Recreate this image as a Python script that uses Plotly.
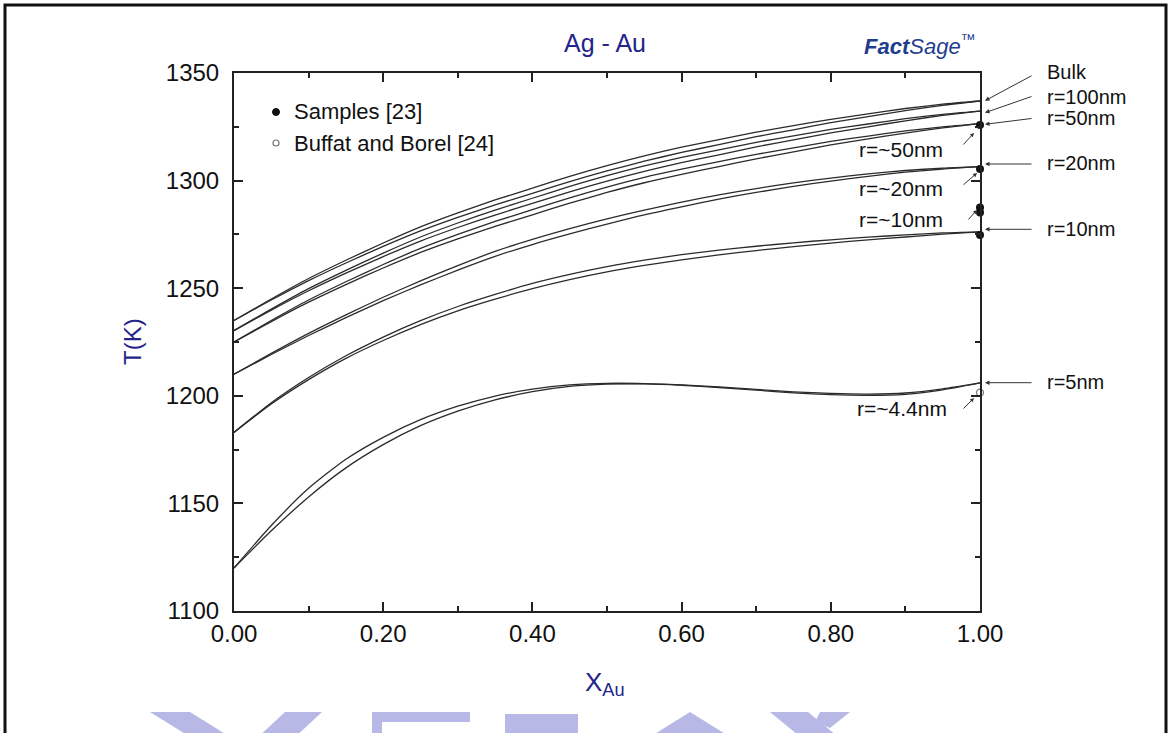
import plotly.graph_objects as go

# ---------------- data ----------------
x_au = [0.00, 0.05, 0.10, 0.15, 0.20, 0.25, 0.30, 0.35, 0.40, 0.45, 0.50,
        0.55, 0.60, 0.65, 0.70, 0.75, 0.80, 0.85, 0.90, 0.95, 1.00]

bulk_liq = [1235, 1245, 1254.5, 1263, 1271, 1278.5, 1285, 1291, 1296.5, 1302, 1307,
            1311.5, 1315.5, 1319, 1322.5, 1325.5, 1328.5, 1331, 1333.5, 1335.5, 1337]
bulk_sol = [1235, 1244.5, 1253.5, 1261.7, 1269.4, 1276.6, 1282.9, 1288.7, 1294.1, 1299.5, 1304.5,
            1309, 1313.1, 1316.7, 1320.4, 1323.6, 1326.9, 1329.7, 1332.5, 1335, 1337]

r100_liq = [1230.3, 1240.3, 1249.8, 1258.3, 1266.3, 1273.8, 1280.3, 1286.3, 1291.8, 1297.3, 1302.3,
            1306.8, 1310.8, 1314.3, 1317.8, 1320.8, 1323.8, 1326.3, 1328.8, 1330.8, 1332.3]
r100_sol = [1230.3, 1239.8, 1248.8, 1257.0, 1264.7, 1271.9, 1278.2, 1284.0, 1289.4, 1294.8, 1299.8,
            1304.3, 1308.4, 1312.0, 1315.7, 1318.9, 1322.2, 1325.0, 1327.8, 1330.3, 1332.3]

r50_liq = [1225, 1235, 1244.5, 1253, 1261, 1268.5, 1275, 1281, 1286.5, 1292, 1297,
           1301.5, 1305.3, 1308.8, 1312.2, 1315.2, 1318.2, 1320.7, 1323.1, 1325, 1326.5]
r50_sol = [1225, 1234.5, 1243.5, 1251.7, 1259.4, 1266.6, 1272.9, 1278.7, 1284.1, 1289.5, 1294.5,
           1299, 1302.9, 1306.5, 1310.1, 1313.3, 1316.6, 1319.4, 1322.1, 1324.5, 1326.5]

r20_liq = [1210, 1219.7, 1229, 1237.6, 1245.8, 1253.4, 1260.5, 1267.1, 1272.7, 1277.7, 1282.2,
           1286.3, 1290, 1293.4, 1296.3, 1298.9, 1301.2, 1303.1, 1304.7, 1305.8, 1306.5]
r20_sol = [1210, 1219.2, 1228, 1236.3, 1244.2, 1251.5, 1258.4, 1264.8, 1270.3, 1275.2, 1279.8,
           1284.1, 1287.8, 1291.4, 1294.5, 1297.3, 1299.8, 1302, 1303.9, 1305.4, 1306.5]

r10_liq = [1183, 1196.8, 1208.5, 1218.6, 1227.3, 1234.9, 1241.5, 1247.1, 1252.2, 1256.4, 1260,
           1263, 1265.6, 1267.7, 1269.5, 1271.1, 1272.5, 1273.7, 1274.8, 1275.7, 1276.2]
r10_sol = [1183, 1196.2, 1207.5, 1217.4, 1225.7, 1233.1, 1239.5, 1244.9, 1249.8, 1254, 1257.6,
           1260.6, 1263.2, 1265.5, 1267.5, 1269.3, 1270.9, 1272.5, 1273.8, 1275.1, 1276.2]

r5_liq = [1120, 1139.75, 1157, 1170.5, 1180.7, 1188.9, 1195.15, 1199.9, 1203.1, 1205.05, 1205.8,
          1205.7, 1205.1, 1204.15, 1202.95, 1201.85, 1201.1, 1200.8, 1201.3, 1203.25, 1206]
r5_sol = [1120, 1137.25, 1153, 1166.5, 1177.3, 1186.1, 1192.85, 1198.1, 1201.9, 1204.35, 1205.4,
          1205.5, 1204.9, 1203.85, 1202.65, 1201.35, 1200.5, 1200.2, 1200.7, 1202.75, 1206]

series_names = ["Bulk", "r=100nm", "r=50nm", "r=20nm", "r=10nm", "r=5nm"]
series_liq = [bulk_liq, r100_liq, r50_liq, r20_liq, r10_liq, r5_liq]
series_sol = [bulk_sol, r100_sol, r50_sol, r20_sol, r10_sol, r5_sol]

samples_x = [1.0, 1.0, 1.0, 1.0, 1.0]
samples_T = [1325.8, 1305.4, 1287.5, 1285.2, 1274.7]
buffat_x = [1.0]
buffat_T = [1201.5]

inner_labels = ["r=~50nm", "r=~20nm", "r=~10nm", "r=~4.4nm"]

x_ticks = [0.0, 0.2, 0.4, 0.6, 0.8, 1.0]
x_ticklabels = ["0.00", "0.20", "0.40", "0.60", "0.80", "1.00"]
y_ticks = [1100, 1150, 1200, 1250, 1300, 1350]

# ---------------- figure ----------------
W, H = 1172, 733
L, R, T, B = 234, 192, 73, 122
PW, PH = W - L - R, H - T - B

def px(xp):
    return (xp - L) / PW

def py(yp):
    return (H - B - yp) / PH

FONT = "Liberation Sans, Arial, Helvetica, sans-serif"
BLUE = "#24248a"
LINE = "#2b2b2b"
TXT = "#111111"

fig = go.Figure()
for name, liq, sol in zip(series_names, series_liq, series_sol):
    for ys in (liq, sol):
        fig.add_trace(go.Scatter(x=x_au, y=ys, mode="lines", name=name,
                                 line=dict(color=LINE, width=1.3, shape="spline", smoothing=0.6),
                                 showlegend=False, hoverinfo="skip"))

fig.add_trace(go.Scatter(x=samples_x, y=samples_T, mode="markers", name="Samples [23]",
                         marker=dict(color="#111111", size=8, symbol="circle"),
                         cliponaxis=False, showlegend=False))
fig.add_trace(go.Scatter(x=buffat_x, y=buffat_T, mode="markers", name="Buffat and Borel [24]",
                         marker=dict(color="white", size=7, symbol="circle",
                                     line=dict(color="#777777", width=1.3)),
                         cliponaxis=False, showlegend=False))

ann = []

def arrow(head, tail, size=0.9):
    return dict(x=px(head[0]), y=py(head[1]), xref="paper", yref="paper", text="",
                showarrow=True, ax=tail[0] - head[0], ay=tail[1] - head[1],
                axref="pixel", ayref="pixel", arrowhead=2, arrowsize=size,
                arrowwidth=1, arrowcolor="#333333", standoff=0)

def label(text, xp, yp, size=21, anchor="left", color=TXT, **kw):
    return dict(x=px(xp), y=py(yp), xref="paper", yref="paper", text=text,
                showarrow=False, xanchor=anchor, yanchor="middle",
                font=dict(family=FONT, size=size, color=color), **kw)

# right-hand labels with arrows
label_pos = [72, 97, 117.5, 163, 229, 382]
arrow_heads = [(985, 100.7), (985, 112.7), (985, 124.3), (985, 164), (985, 229.3), (985, 382.7)]
arrow_tails = [(1033, 75), (1033, 96), (1033, 118.3), (1033, 164), (1033, 229.3), (1033, 382.7)]
for name, ly, hd, tl in zip(series_names, label_pos, arrow_heads, arrow_tails):
    ann.append(arrow(hd, tl))
    ann.append(label(name, 1045, ly, size=20))

# inner labels with small arrows
inner_pos = [(857, 149), (857, 188), (857, 219.5), (855, 408)]
inner_heads = [(974, 133), (977, 173), (977, 210), (974, 398)]
inner_tails = [(962, 146), (962, 186), (967, 221), (962, 410)]
for txt, pos, hd, tl in zip(inner_labels, inner_pos, inner_heads, inner_tails):
    ann.append(label(txt, pos[0], pos[1], size=21))
    ann.append(arrow(hd, tl, size=0.8))

# legend text
ann.append(label("Samples [23]", 292, 112, size=22))
ann.append(label("Buffat and Borel [24]", 292, 143, size=22))

# title, logo and axis titles
ann.append(label("Ag - Au", 605, 43, size=25, anchor="center", color=BLUE))
ann.append(label("<b><i>Fact</i></b><i>Sage</i><sup>™</sup>", 920, 45, size=22,
                 anchor="center", color="#1f3d8f"))
ann.append(label("T(K)", 132, 342, size=24, anchor="center", color=BLUE, textangle=-90))
ann.append(label("X<sub>Au</sub>", 605, 683, size=26, anchor="center", color=BLUE))

shapes = []
# legend markers
shapes.append(dict(type="circle", xref="paper", yref="paper",
                   x0=px(272.5), x1=px(279.5), y0=py(108.5), y1=py(115.5),
                   fillcolor="#111111", line=dict(color="#111111", width=1)))
shapes.append(dict(type="circle", xref="paper", yref="paper",
                   x0=px(273), x1=px(279), y0=py(140), y1=py(146),
                   fillcolor="white", line=dict(color="#777777", width=1.2)))
# outer page frame
shapes.append(dict(type="rect", xref="paper", yref="paper",
                   x0=px(5), x1=px(1166), y0=py(5), y1=py(760),
                   line=dict(color="#111111", width=3), fillcolor="rgba(0,0,0,0)", layer="below"))
# faint watermark at the bottom
WM = "#b8b8e6"
def poly(pts):
    d = "M " + " L ".join(f"{px(a):.5f},{py(b):.5f}" for a, b in pts) + " Z"
    return dict(type="path", xref="paper", yref="paper", path=d, fillcolor=WM,
                line=dict(width=0), layer="below")
shapes.append(poly([(150, 712), (190, 712), (235, 740), (195, 740)]))
shapes.append(poly([(285, 712), (322, 712), (292, 740), (255, 740)]))
shapes.append(poly([(372, 712), (470, 712), (470, 722), (372, 722)]))
shapes.append(poly([(372, 712), (382, 712), (382, 740), (372, 740)]))
shapes.append(poly([(505, 714), (578, 714), (578, 740), (505, 740)]))
shapes.append(poly([(690, 712), (735, 740), (645, 740)]))
shapes.append(poly([(770, 712), (808, 712), (842, 740), (804, 740)]))
shapes.append(poly([(820, 712), (850, 712), (830, 728), (815, 722)]))

fig.update_layout(
    width=W, height=H, margin=dict(l=L, r=R, t=T, b=B, autoexpand=False),
    paper_bgcolor="white", plot_bgcolor="white",
    showlegend=False, annotations=ann, shapes=shapes,
    font=dict(family=FONT, size=22, color=TXT),
)
fig.update_xaxes(range=[0, 1], tickvals=x_ticks, ticktext=x_ticklabels,
                 showgrid=False, zeroline=False, showline=True, linecolor="#222222", linewidth=2,
                 mirror="allticks", ticks="inside", ticklen=9, tickwidth=2, tickcolor="#222222",
                 tickfont=dict(family=FONT, size=24, color=TXT),
                 minor=dict(dtick=0.1, ticks="inside", ticklen=5, tickwidth=1.5, tickcolor="#222222"))
fig.update_yaxes(range=[1100, 1350], tickvals=y_ticks,
                 showgrid=False, zeroline=False, showline=True, linecolor="#222222", linewidth=2,
                 mirror="allticks", ticks="inside", ticklen=9, tickwidth=2, tickcolor="#222222",
                 ticklabelstandoff=8,
                 tickfont=dict(family=FONT, size=24, color=TXT),
                 minor=dict(dtick=25, ticks="inside", ticklen=5, tickwidth=1.5, tickcolor="#222222"))

fig.write_html("out.html")
